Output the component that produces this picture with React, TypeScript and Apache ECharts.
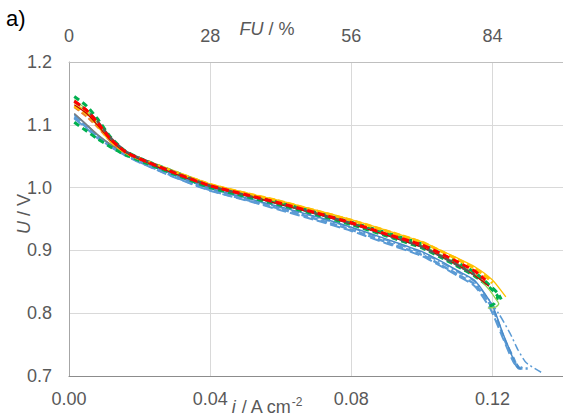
import React, { useEffect, useRef } from "react";
import * as echarts from "echarts";

// shared current-density grid (A cm-2)
const currentGrid = [0.0015, 0.005, 0.008, 0.012, 0.016, 0.02, 0.03, 0.04, 0.05, 0.06, 0.07, 0.08, 0.09, 0.1, 0.105, 0.11, 0.115];

// cell voltages (V) on currentGrid, plus per-series tail points [i, U]
const uB1 = [1.112, 1.096, 1.081, 1.065, 1.052, 1.041, 1.017, 0.996, 0.981, 0.966, 0.95, 0.933, 0.913, 0.893, 0.878, 0.862, 0.846];
const tailB1 = [[0.12, 0.808], [0.1235, 0.757], [0.126, 0.728], [0.1275, 0.712], [0.13, 0.712]];
const uB2 = [1.115, 1.099, 1.083, 1.067, 1.054, 1.043, 1.019, 0.998, 0.983, 0.968, 0.953, 0.936, 0.916, 0.896, 0.882, 0.866, 0.85];
const tailB2 = [[0.1217, 0.8], [0.125, 0.768], [0.1273, 0.741], [0.1296, 0.721], [0.1338, 0.706]];
const uB3 = [1.117, 1.1, 1.084, 1.068, 1.055, 1.044, 1.02, 0.999, 0.984, 0.969, 0.954, 0.937, 0.918, 0.898, 0.884, 0.868, 0.852];
const tailB3 = [[0.12, 0.812], [0.1228, 0.77], [0.125, 0.74], [0.1267, 0.716], [0.128, 0.711], [0.1268, 0.72]];
const uB4 = [1.11, 1.094, 1.079, 1.064, 1.051, 1.04, 1.016, 0.995, 0.98, 0.964, 0.948, 0.931, 0.911, 0.891, 0.876, 0.86, 0.843];
const tailB4 = [[0.1195, 0.806], [0.123, 0.76], [0.1262, 0.72], [0.1285, 0.713]];
const uGy = [1.118, 1.1, 1.085, 1.068, 1.056, 1.045, 1.022, 1.001, 0.987, 0.973, 0.958, 0.942, 0.924, 0.905, 0.891, 0.876, 0.86];
const tailGy = [[0.119, 0.845]];
const uG2 = [1.104, 1.09, 1.078, 1.064, 1.052, 1.043, 1.021, 1.0, 0.986, 0.972, 0.957, 0.941, 0.923, 0.904, 0.89, 0.875, 0.859];
const tailG2 = [[0.119, 0.842], [0.1215, 0.826], [0.1205, 0.815], [0.1187, 0.81]];
const uO1 = [1.128, 1.113, 1.097, 1.072, 1.055, 1.045, 1.024, 1.003, 0.989, 0.975, 0.96, 0.944, 0.926, 0.907, 0.893, 0.878, 0.862];
const tailO1 = [[0.119, 0.846]];
const uLG = [1.14, 1.124, 1.104, 1.076, 1.057, 1.046, 1.023, 1.003, 0.989, 0.975, 0.96, 0.944, 0.927, 0.908, 0.894, 0.879, 0.862];
const tailLG = [[0.119, 0.838], [0.1213, 0.82], [0.1218, 0.815], [0.121, 0.81], [0.1187, 0.808]];
const uG1 = [1.145, 1.13, 1.11, 1.079, 1.058, 1.047, 1.025, 1.004, 0.99, 0.976, 0.961, 0.945, 0.928, 0.91, 0.896, 0.881, 0.865];
const tailG1 = [[0.1187, 0.847], [0.1215, 0.832], [0.1225, 0.822]];
const uY1 = [1.135, 1.12, 1.1, 1.074, 1.057, 1.047, 1.026, 1.006, 0.992, 0.979, 0.964, 0.949, 0.932, 0.914, 0.901, 0.888, 0.874];
const tailY1 = [[0.12, 0.853], [0.1238, 0.826]];
const uY2 = [1.13, 1.118, 1.1, 1.073, 1.056, 1.046, 1.025, 1.005, 0.991, 0.978, 0.963, 0.948, 0.931, 0.913, 0.9, 0.886, 0.871];
const tailY2 = [[0.1185, 0.857], [0.12, 0.848]];
const uR2 = [1.132, 1.118, 1.1, 1.074, 1.056, 1.045, 1.022, 1.002, 0.988, 0.973, 0.958, 0.942, 0.924, 0.905, 0.892, 0.877, 0.86];
const tailR2 = [[0.119, 0.843]];
const uD1 = [1.137, 1.123, 1.106, 1.078, 1.058, 1.047, 1.024, 1.003, 0.988, 0.974, 0.959, 0.943, 0.925, 0.906, 0.892, 0.877, 0.861];
const tailD1: number[][] = [];
const uR1 = [1.138, 1.123, 1.104, 1.076, 1.057, 1.046, 1.023, 1.003, 0.989, 0.975, 0.96, 0.944, 0.926, 0.909, 0.896, 0.882, 0.867];
const tailR1 = [[0.118, 0.853]];

const xTicks = ["0.00", "0.04", "0.08", "0.12"];
const fuTicks = [0, 28, 56, 84];
const fuPerCurrent = 700; // FU % per A cm-2

const seriesDefs = [
  { name: "B1", u: uB1, tail: tailB1, color: "#5B9BD5", width: 2.5, dash: [7, 3] },
  { name: "B2", u: uB2, tail: tailB2, color: "#5B9BD5", width: 1.5, dash: [8, 3, 2, 3] },
  { name: "B3", u: uB3, tail: tailB3, color: "#4A8BC9", width: 1.5, dash: "solid" },
  { name: "B4", u: uB4, tail: tailB4, color: "#5B9BD5", width: 2, dash: [10, 4] },
  { name: "Gy", u: uGy, tail: tailGy, color: "#7F7F7F", width: 1.5, dash: "solid" },
  { name: "G2", u: uG2, tail: tailG2, color: "#00B050", width: 3, dash: [6, 4] },
  { name: "O1", u: uO1, tail: tailO1, color: "#ED7D31", width: 2, dash: [6, 3] },
  { name: "LG", u: uLG, tail: tailLG, color: "#92D050", width: 1.3, dash: "solid" },
  { name: "G1", u: uG1, tail: tailG1, color: "#00B050", width: 3, dash: [6, 4] },
  { name: "Y1", u: uY1, tail: tailY1, color: "#FFC000", width: 1.3, dash: "solid" },
  { name: "Y2", u: uY2, tail: tailY2, color: "#FFC000", width: 3, dash: [7, 3] },
  { name: "R2", u: uR2, tail: tailR2, color: "#C00000", width: 1.2, dash: "solid" },
  { name: "D1", u: uD1, tail: tailD1, color: "#595959", width: 2.5, dash: [7, 3] },
  { name: "R1", u: uR1, tail: tailR1, color: "#FF0000", width: 3, dash: [7, 4] },
];

export default function App() {
  const ref = useRef<HTMLDivElement>(null);
  useEffect(() => {
    if (!ref.current) return;
    const chart = echarts.init(ref.current, null, { renderer: "svg" });
    const grey = "#595959";
    const series = seriesDefs.map((s) => ({
      type: "line",
      name: s.name,
      xAxisIndex: 0,
      yAxisIndex: 0,
      showSymbol: false,
      symbol: "none",
      smooth: 0.2,
      lineStyle: { color: s.color, width: s.width, type: s.dash as any },
      data: currentGrid.map((i, k) => [i, s.u[k]]).concat(s.tail),
    }));
    chart.setOption({
      animation: false,
      grid: { left: 69, right: -2, top: 62, bottom: 40 },
      xAxis: [
        {
          type: "value",
          position: "bottom",
          min: 0,
          max: 0.14,
          interval: 0.04,
          axisLine: { show: true, lineStyle: { color: "#8C8C8C", width: 1.2 } },
          axisTick: { show: false },
          axisLabel: {
            color: grey,
            fontSize: 18,
            fontFamily: "Liberation Sans, Arial, sans-serif",
            margin: 14,
            showMaxLabel: false,
            formatter: (v: number) => {
              const idx = Math.round(v / 0.04);
              return Math.abs(v - idx * 0.04) < 1e-9 ? xTicks[idx] ?? "" : "";
            },
          },
          splitLine: { show: true, lineStyle: { color: "#D9D9D9", width: 1 } },
        },
        {
          type: "value",
          position: "top",
          min: 0,
          max: 0.14 * fuPerCurrent,
          interval: 28,
          axisLine: { show: true, lineStyle: { color: "#BFBFBF", width: 1 } },
          axisTick: { show: false },
          axisLabel: {
            color: grey,
            fontSize: 18,
            fontFamily: "Liberation Sans, Arial, sans-serif",
            margin: 17,
            showMaxLabel: false,
            formatter: (v: number) => (fuTicks.includes(v) ? String(v) : ""),
          },
          splitLine: { show: false },
        },
      ],
      yAxis: {
        type: "value",
        min: 0.7,
        max: 1.2,
        interval: 0.1,
        axisLine: { show: true, lineStyle: { color: "#A6A6A6", width: 1 } },
        axisTick: { show: false },
        axisLabel: {
          color: grey,
          fontSize: 18,
          fontFamily: "Liberation Sans, Arial, sans-serif",
          margin: 17,
          formatter: (v: number) => v.toFixed(1),
        },
        splitLine: { show: true, lineStyle: { color: "#D9D9D9", width: 1 } },
      },
      series,
      graphic: [
        {
          type: "text",
          left: 6,
          top: 7,
          style: { text: "a)", fill: "#000", font: "22px Liberation Sans, Arial, sans-serif" },
        },
        {
          type: "text",
          x: 267,
          y: 29,
          style: {
            text: "{it|FU} / %",
            fill: grey,
            align: "center",
            verticalAlign: "middle",
            font: "18px Liberation Sans, Arial, sans-serif",
            rich: { it: { fontStyle: "italic", fontSize: 18, fill: grey, fontFamily: "Liberation Sans, Arial, sans-serif" } },
          },
        },
        {
          type: "text",
          x: 24,
          y: 214,
          rotation: Math.PI / 2,
          style: {
            text: "{it|U} / V",
            fill: grey,
            align: "center",
            verticalAlign: "middle",
            font: "18px Liberation Sans, Arial, sans-serif",
            rich: { it: { fontStyle: "italic", fontSize: 18, fill: grey, fontFamily: "Liberation Sans, Arial, sans-serif" } },
          },
        },
        {
          type: "text",
          x: 267,
          y: 407,
          style: {
            text: "{it|i} / A cm{sup|-2}",
            fill: grey,
            align: "center",
            verticalAlign: "middle",
            font: "18px Liberation Sans, Arial, sans-serif",
            rich: {
              it: { fontStyle: "italic", fontSize: 18, fill: grey, fontFamily: "Liberation Sans, Arial, sans-serif" },
              sup: { fontSize: 12, fill: grey, padding: [0, 0, 10, 0], fontFamily: "Liberation Sans, Arial, sans-serif" },
            },
          },
        },
      ],
    });
    return () => chart.dispose();
  }, []);
  return <div ref={ref} style={{ position: "absolute", left: 0, top: 0, width: 563, height: 416 }} />;
}
